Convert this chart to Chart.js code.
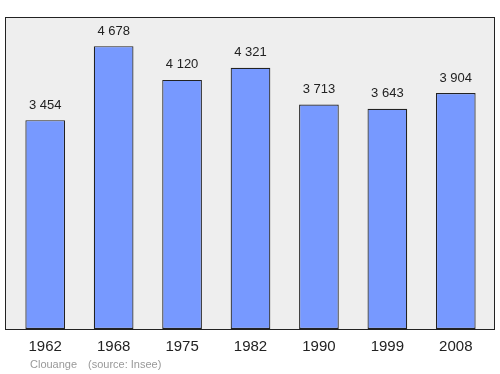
<!DOCTYPE html>
<html>
<head>
<meta charset="utf-8">
<script src="https://cdn.jsdelivr.net/npm/chart.js@4/dist/chart.umd.min.js"></script>
<style>
  body { margin: 0; background: #fff; }
  canvas { display: block; }
</style>
</head>
<body>
<canvas id="popChart" width="500" height="374"></canvas>
<script>
const years = ['1962', '1968', '1975', '1982', '1990', '1999', '2008'];
const population = [3454, 4678, 4120, 4321, 3713, 3643, 3904];
const commune = 'Clouange';
const sourceText = '(source: Insee)';

const fmt = v => String(v).replace(/\B(?=(\d{3})+(?!\d))/g, ' ');

// fond gris + cadre, étiquettes et pied de page
const decor = {
    id: 'decor',
    beforeDraw(chart) {
        const ctx = chart.ctx;
        ctx.save();
        ctx.fillStyle = '#eeeeee';
        ctx.fillRect(5, 17, 490, 313);
        ctx.restore();
    },
    afterDraw(chart) {
        const ctx = chart.ctx;
        const x = chart.scales.x;
        const meta = chart.getDatasetMeta(0);
        ctx.save();
        ctx.strokeStyle = '#222';
        ctx.lineWidth = 1;
        ctx.strokeRect(5.5, 17.5, 489, 312);

        ctx.fillStyle = '#222';
        ctx.textAlign = 'center';
        ctx.textBaseline = 'middle';
        ctx.font = '13px "Liberation Sans", Arial, sans-serif';
        meta.data.forEach((bar, i) => {
            ctx.fillText(fmt(population[i]), bar.x, bar.y - 15);
        });

        ctx.font = '15px "Liberation Sans", Arial, sans-serif';
        years.forEach((y, i) => {
            ctx.fillText(y, x.getPixelForValue(i), 347);
        });

        ctx.fillStyle = '#999';
        ctx.font = '11px "Liberation Sans", Arial, sans-serif';
        ctx.textAlign = 'left';
        ctx.fillText(commune, 30, 365);
        ctx.fillText(sourceText, 88, 365);
        ctx.restore();
    }
};

new Chart(document.getElementById('popChart'), {
    type: 'bar',
    data: {
        labels: years,
        datasets: [{
            data: population,
            backgroundColor: '#7799ff',
            borderColor: '#222',
            borderWidth: 1.2,
            borderSkipped: false,
            barPercentage: 0.58,
            categoryPercentage: 1
        }]
    },
    options: {
        responsive: false,
        animation: false,
        layout: { padding: { left: 11, right: 10, top: 17, bottom: 45 } },
        plugins: { legend: { display: false }, tooltip: { enabled: false } },
        scales: {
            x: { display: false, offset: true },
            y: { display: false, min: 0, max: 5160 }
        }
    },
    plugins: [decor]
});
</script>
</body>
</html>
